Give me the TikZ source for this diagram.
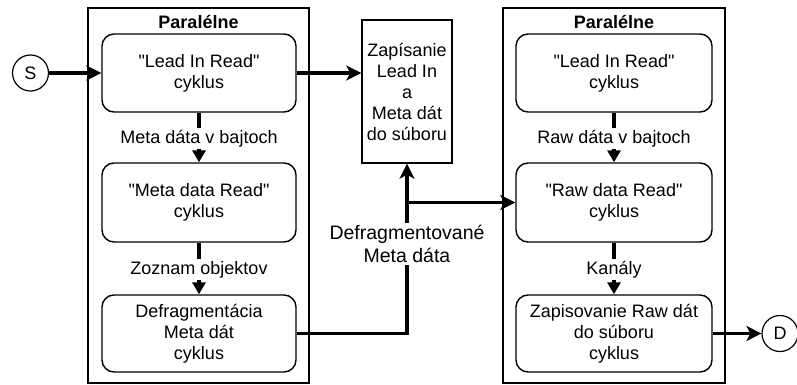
\documentclass[tikz,border=0pt]{standalone}
\usepackage{fontspec}
\setmainfont{Liberation Sans}[Ligatures=TeXOff]
\usetikzlibrary{arrows.meta}
\begin{document}
\begin{tikzpicture}[x=1pt,y=-1pt,
  every node/.style={font=\fontsize{18}{21}\selectfont, align=center, inner sep=0pt},
  container/.style={draw, line width=1.4pt, rectangle},
  proc/.style={draw, line width=1.4pt, rectangle, rounded corners=12pt},
  plainbox/.style={draw, line width=1.4pt, rectangle},
  endpt/.style={draw, circle, line width=1.2pt, minimum size=36pt},
  big/.style={line width=3.5pt, -{Stealth[length=15pt, width=15pt, inset=4pt]}},
  small/.style={line width=3.5pt, -{Triangle[length=12pt, width=13pt]}},
  lbl/.style={fill=white, inner sep=2pt},
  ttl/.style={font=\fontsize{18}{21}\selectfont\bfseries}]
\useasboundingbox (0,0) rectangle (797,385);
% containers
\node[container, minimum width=221pt, minimum height=375pt] (LC) at (198.5,195.5) {};
\node[container, minimum width=222pt, minimum height=375pt] (RC) at (614,195.5) {};
\node[ttl] (LT) at (198.5,22) {Paralélne};
\node[ttl] (RT) at (614,22) {Paralélne};
% left boxes
\node[proc, minimum width=194pt, minimum height=78pt] (L1) at (199,73) {"Lead In Read"\\cyklus};
\node[proc, minimum width=194pt, minimum height=79pt] (L2) at (199,202.5) {"Meta data Read"\\cyklus};
\node[proc, minimum width=194pt, minimum height=77pt] (L3) at (199,333.5) {Defragmentácia\\Meta dát\\cyklus};
% right boxes
\node[proc, minimum width=196pt, minimum height=78pt] (R1) at (614,73) {"Lead In Read"\\cyklus};
\node[proc, minimum width=196pt, minimum height=79pt] (R2) at (614,202.5) {"Raw data Read"\\cyklus};
\node[proc, minimum width=196pt, minimum height=77pt] (R3) at (614,333.5) {Zapisovanie Raw dát\\do súboru\\cyklus};
% center box
\node[plainbox, minimum width=90pt, minimum height=143pt] (C) at (407,91.5) {Zapísanie\\Lead In\\a\\Meta dát\\do súboru};
% start / end
\node[endpt] (S) at (30.5,73) {S};
\node[endpt] (D) at (780,333.5) {D};
% connectors
\draw[big] (S) -- (L1);
\draw[big] (L1) -- (C.west |- L1);
\draw[small] (L1) -- node[lbl, pos=0.52] (lab1) {Meta dáta v bajtoch} (L2);
\draw[small] (L2) -- node[lbl, pos=0.52] (lab2) {Zoznam objektov} (L3);
\draw[small] (R1) -- node[lbl, pos=0.52] (lab3) {Raw dáta v bajtoch} (R2);
\draw[small] (R2) -- node[lbl, pos=0.52] (lab4) {Kanály} (R3);
\draw[big] (R3) -- (D);
\coordinate (J) at (407,202.5);
\draw[big] (L3.east) -| (C.south);
\draw[big] (J) -- (R2.west);
\node[lbl, font=\fontsize{19.5}{23}\selectfont] (lab5) at (407,244) {Defragmentované\\Meta dáta};
\end{tikzpicture}
\end{document}
